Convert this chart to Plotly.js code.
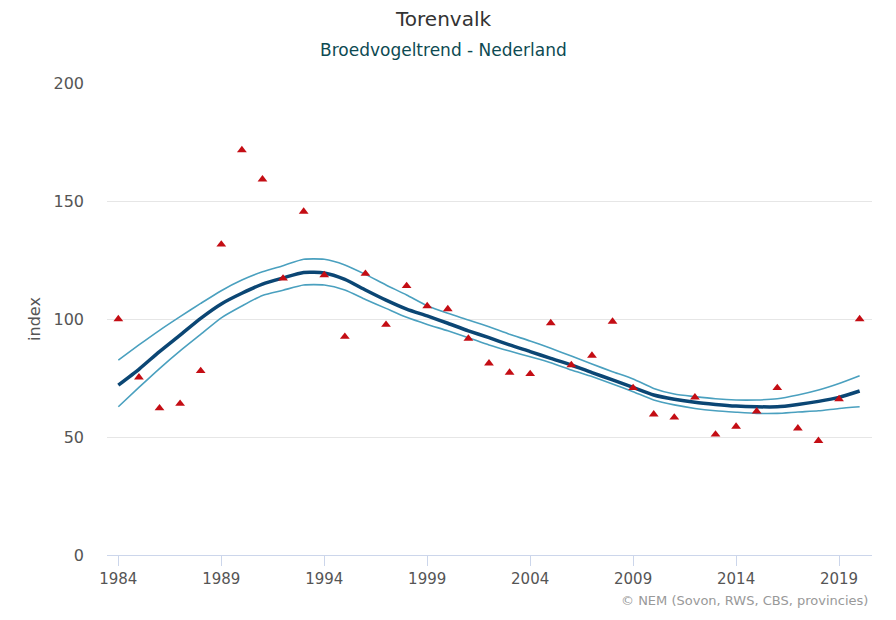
<!DOCTYPE html>
<html>
<head>
<meta charset="utf-8">
<script src="https://cdn.plot.ly/plotly-3.0.1.min.js"></script>
<style>
html,body{margin:0;padding:0;background:#fff;}
#chart{width:896px;height:620px;}
</style>
</head>
<body>
<div id="chart"></div>
<script>
const years = [1984,1985,1986,1987,1988,1989,1990,1991,1992,1993,1994,1995,1996,1997,1998,1999,2000,2001,2002,2003,2004,2005,2006,2007,2008,2009,2010,2011,2012,2013,2014,2015,2016,2017,2018,2019,2020];
const indexValues = [100,75.3,62.2,64.1,78.0,131.6,171.6,159.2,117.2,145.5,118.6,92.5,119.2,97.6,114.0,105.5,104.2,91.7,81.2,77.3,76.7,98.3,80.5,84.5,98.9,70.8,59.6,58.3,66.8,51.1,54.4,60.9,70.8,53.7,48.4,66.1,100];
const trend = [72.0,78.7,86.2,93.2,100.3,106.4,110.9,114.8,117.4,119.7,119.5,116.8,112.3,108.0,104.2,101.3,98.2,95.0,92.1,89.0,86.2,83.3,80.5,77.3,74.2,71.0,67.8,66.0,64.7,63.8,63.1,62.8,62.8,63.8,65.1,66.8,69.5];
const upper = [82.6,89.0,95.2,101.0,106.6,112.0,116.5,120.0,122.6,125.3,125.3,122.9,118.9,114.4,110.2,105.6,102.4,99.6,96.7,93.5,90.7,87.6,84.3,80.9,77.7,74.6,70.6,68.2,67.1,66.2,65.7,65.7,66.2,67.8,69.9,72.7,76.0];
const lower = [62.8,71.0,79.0,86.5,93.5,100.5,105.5,110.0,112.2,114.4,114.4,112.3,108.3,104.5,100.7,97.7,95.0,92.1,89.0,86.4,84.0,81.5,78.4,75.6,72.5,69.2,65.7,63.6,62.1,61.1,60.5,60.0,60.0,60.6,61.1,62.1,62.8];
const xTicks = [1984,1989,1994,1999,2004,2009,2014,2019];
const yTicks = [0,50,100,150,200];

const font = '"DejaVu Sans", sans-serif';

const traces = [
  {x: years, y: upper, type: 'scatter', mode: 'lines', line: {color: '#4aa0bf', width: 1.6, shape: 'spline', smoothing: 0.6}, hoverinfo: 'skip'},
  {x: years, y: lower, type: 'scatter', mode: 'lines', line: {color: '#4aa0bf', width: 1.6, shape: 'spline', smoothing: 0.6}, hoverinfo: 'skip'},
  {x: years, y: trend, type: 'scatter', mode: 'lines', line: {color: '#0b4674', width: 3.5, shape: 'spline', smoothing: 0.6}},
  {x: years, y: indexValues, type: 'scatter', mode: 'markers', marker: {symbol: 'triangle-up', size: 8.5, color: '#c40d14'}}
];

const layout = {
  width: 896, height: 620,
  margin: {l: 107, r: 24, t: 83, b: 65},
  paper_bgcolor: '#fff', plot_bgcolor: '#fff',
  showlegend: false,
  font: {family: font, color: '#555', size: 15},
  xaxis: {
    range: [1983.45, 2020.6],
    tickvals: xTicks, ticktext: xTicks.map(String),
    showgrid: false, zeroline: false,
    showline: true, linecolor: '#ccd6eb', linewidth: 1,
    ticks: 'outside', ticklen: 10, tickcolor: '#ccd6eb', tickwidth: 1,
    tickfont: {family: font, size: 15, color: '#555'}
  },
  yaxis: {
    range: [0, 200],
    tickvals: yTicks, ticktext: yTicks.map(String),
    showgrid: true, gridcolor: '#e6e6e6', gridwidth: 1,
    zeroline: false, showline: false, ticks: '',
    ticklabelstandoff: 22,
    tickfont: {family: font, size: 16, color: '#555'},
    title: {text: 'index', font: {family: font, size: 16, color: '#555'}, standoff: 8}
  },
  annotations: [
    {text: 'Torenvalk', xref: 'paper', yref: 'paper', x: (443-107)/765, y: 1 + (83-19)/472, xanchor: 'center', yanchor: 'middle', showarrow: false, font: {family: font, size: 20, color: '#333'}},
    {text: 'Broedvogeltrend - Nederland', xref: 'paper', yref: 'paper', x: (443-107)/765, y: 1 + (83-50)/472, xanchor: 'center', yanchor: 'middle', showarrow: false, font: {family: font, size: 17, color: '#0d4a52'}},
    {text: '© NEM (Sovon, RWS, CBS, provincies)', xref: 'paper', yref: 'paper', x: (870-107)/765, y: -(600-555)/472, xanchor: 'right', yanchor: 'middle', showarrow: false, font: {family: font, size: 13, color: '#999'}}
  ]
};

Plotly.newPlot('chart', traces, layout, {displayModeBar: false, staticPlot: true});
</script>
</body>
</html>
